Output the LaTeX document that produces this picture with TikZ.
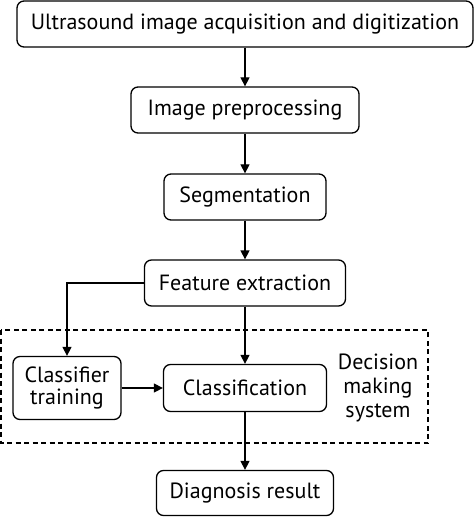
\documentclass[tikz,border=0pt]{standalone}
\usepackage{fontspec}
\setmainfont{PT Sans}
\usetikzlibrary{arrows.meta,positioning}

\begin{document}
\begin{tikzpicture}[x=1pt,y=-1pt,
    stage/.style={rectangle, rounded corners=7pt, draw, line width=1.3pt, minimum height=46pt, align=center, inner sep=2pt},
    flow/.style={line width=1.3pt, -{Triangle[length=9pt,width=9pt]}},
    font=\fontsize{22}{25}\selectfont]
    \useasboundingbox (0,0) rectangle (474,518);

    \node[stage, minimum width=456pt] (acq) at (245,24) {Ultrasound image acquisition and digitization};
    \node[stage, minimum width=228pt] (pre) at (245,110) {Image preprocessing};
    \node[stage, minimum width=162pt] (seg) at (245,197) {Segmentation};
    \node[stage, minimum width=201pt] (feat) at (245,283) {Feature extraction};
    \node[stage, minimum width=108pt, minimum height=63pt] (train) at (67,388) {Classifier\\[-3pt]training};
    \node[stage, minimum width=163pt, minimum height=47pt] (cls) at (245,388) {Classification};
    \node[stage, minimum width=177pt, minimum height=45pt] (diag) at (245,493) {Diagnosis result};
    \node[align=center] (dms) at (378,388) {Decision\\[-1pt]making\\[-1pt]system};

    \draw[line width=1.5pt, dash pattern=on 5pt off 3.5pt] (1,330) rectangle (428,443);

    \foreach \s/ \d in {acq/pre, pre/seg, seg/feat, feat/cls, cls/diag}{
        \draw[flow] (\s) -- (\d);
    }
    \draw[flow] (feat.west) -| (train.north);
    \draw[flow] (train) -- (cls);
\end{tikzpicture}
\end{document}
